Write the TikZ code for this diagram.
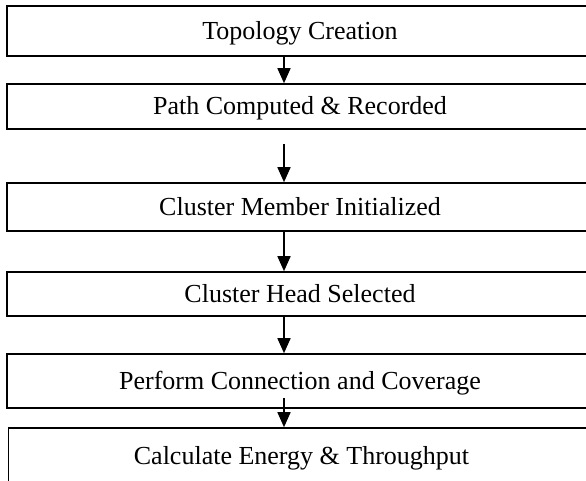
\documentclass[tikz,border=0pt]{standalone}
\usepackage{fontspec}
\setmainfont{Liberation Serif}
\usetikzlibrary{arrows.meta}

\begin{document}
\begin{tikzpicture}[
    x=1pt, y=1pt,
    stage box/.style={draw=black, line width=1.6pt, minimum width=586pt, inner sep=0pt,
        font=\fontsize{26}{30}\selectfont, text height=17pt, text depth=0pt},
    flow arrow/.style={draw=black, line width=1.6pt, -{Triangle[length=15pt, width=13pt]}}
]
\useasboundingbox (0,0) rectangle (586,-481);
\clip (0,0) rectangle (586,-481);
\fill[white] (0,0) rectangle (586,-481);

% Stages
\node[stage box, minimum height=50pt] (topo)    at (300,-31)    {Topology Creation};
\node[stage box, minimum height=45pt] (route)   at (300,-106.5) {Path Computed \& Recorded};
\node[stage box, minimum height=48pt] (member)  at (300,-207)   {Cluster Member Initialized};
\node[stage box, minimum height=44pt] (head)    at (300,-294)   {Cluster Head Selected};
\node[stage box, minimum height=54pt] (perform) at (300,-381)   {Perform Connection and Coverage};
\node[stage box, minimum height=56pt] (energy)  at (301.5,-456) {Calculate Energy \& Throughput};

% Flow
\draw[flow arrow] ([xshift=-16pt]topo.south) -- ([xshift=-16pt]route.north);
\draw[flow arrow] ([xshift=-16pt, yshift=-14pt]route.south) -- ([xshift=-16pt]member.north);
\draw[flow arrow] ([xshift=-16pt]member.south) -- ([xshift=-16pt]head.north);
\draw[flow arrow] ([xshift=-16pt]head.south) -- ([xshift=-16pt]perform.north);
\draw[flow arrow] ([xshift=-16pt, yshift=11pt]perform.south) -- ([xshift=-17.5pt]energy.north);
\end{tikzpicture}
\end{document}
